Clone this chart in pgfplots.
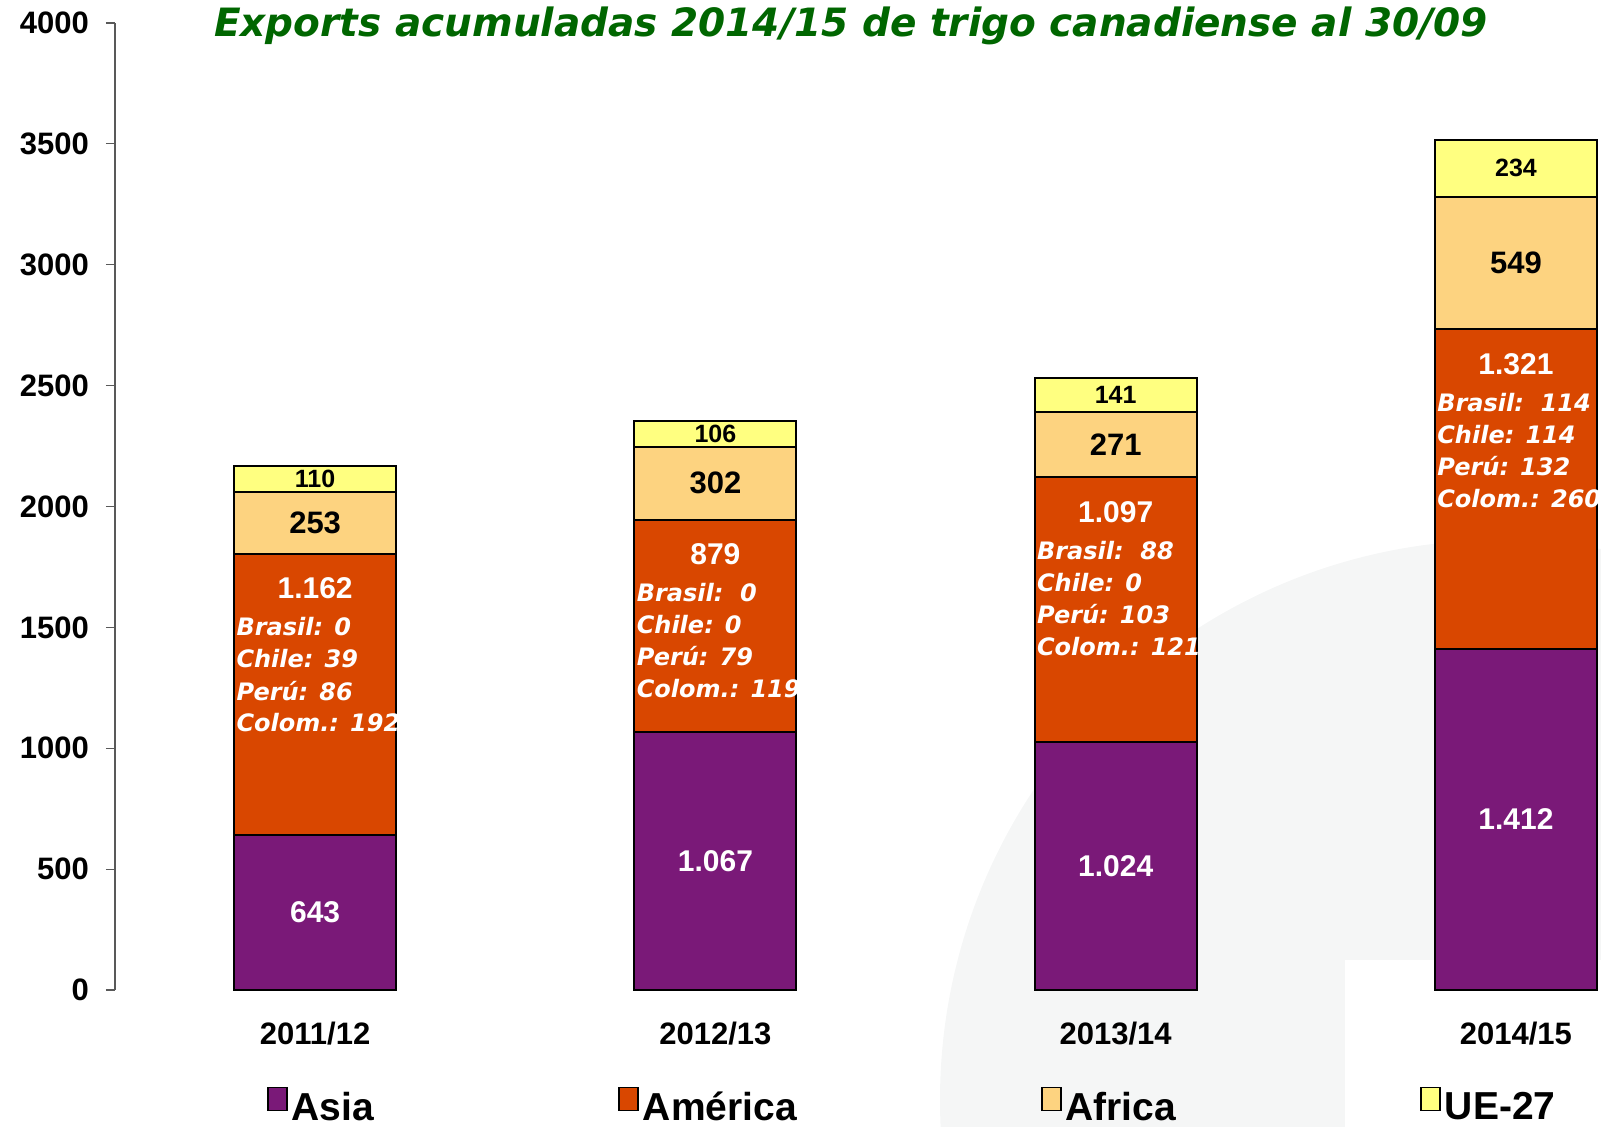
\documentclass[border=0pt]{standalone}
\usepackage{pgfplots}
\pgfplotsset{compat=1.18}
\usepackage{fontspec}
\setmainfont{Liberation Sans}
\newfontfamily\dv{DejaVu Sans}
\definecolor{asia}{RGB}{122,25,120}
\definecolor{amer}{RGB}{217,71,0}
\definecolor{afr}{RGB}{253,211,128}
\definecolor{ue}{RGB}{255,255,128}
\definecolor{ttl}{RGB}{0,102,0}
\definecolor{wm}{RGB}{245,246,246}
\newcommand{\amerlab}[6]{%
  \node[text=white, font=\bfseries\fontsize{15}{15}\selectfont, yshift=-17.5pt] at (#1) {#2};
  \node[anchor=west, inner sep=1pt, text=white, font=\dv\bfseries\itshape\fontsize{12}{12}\selectfont, yshift=-36.5pt, xshift=-40.5pt] at (#1) {#3};
  \node[anchor=west, inner sep=1pt, text=white, font=\dv\bfseries\itshape\fontsize{12}{12}\selectfont, yshift=-52.5pt, xshift=-40.5pt] at (#1) {#4};
  \node[anchor=west, inner sep=1pt, text=white, font=\dv\bfseries\itshape\fontsize{12}{12}\selectfont, yshift=-68.5pt, xshift=-40.5pt] at (#1) {#5};
  \node[anchor=west, inner sep=1pt, text=white, font=\dv\bfseries\itshape\fontsize{12}{12}\selectfont, yshift=-84.5pt, xshift=-40.5pt] at (#1) {#6};
}
\begin{document}
\begin{tikzpicture}
% faint background watermark
\begin{scope}
\clip (-57.5pt,-68.5pt) rectangle (743pt,495pt);
\fill[wm] (692.5pt,-55pt) circle (280pt);
\fill[white] (615pt,-68.5pt) rectangle (743pt,15pt);
\end{scope}
\begin{axis}[
  at={(0,0)}, anchor=south west,
  width=742.5pt, height=483.5pt, scale only axis,
  xmin=-0.5, xmax=3.21, ymin=0, ymax=4000,
  enlargelimits=false,
  axis y line*=left, axis x line*=bottom,
  ybar stacked, bar width=81pt,
  xtick={0,1,2,3}, xticklabels={2011/12,2012/13,2013/14,2014/15},
  ytick={0,500,...,4000},
  tick align=outside, major tick length=4.5pt,
  y axis line style={draw=gray!70!black, line width=0.6pt},
  ytick style={draw=gray!70!black, line width=0.6pt},
  xtick style={draw=none},
  x axis line style={draw=none},
  /pgf/number format/assume math mode=true,
  scaled y ticks=false,
  yticklabel style={font=\bfseries\fontsize{15.5}{15.5}\selectfont, xshift=-5pt, /pgf/number format/.cd, fixed, 1000 sep={}},
  xticklabel style={font=\bfseries\fontsize{15.5}{15.5}\selectfont, yshift=-8pt},
  clip=false,
  legend columns=4,
  legend cell align=left,
  legend style={draw=none, fill=none, inner sep=0pt, at={(0.102,-0.121)}, anchor=west,
    font=\bfseries\fontsize{19.5}{19.5}\selectfont,
    /tikz/every even column/.append style={column sep=120pt}},
]
\addplot[fill=asia, draw=black, line width=1pt, legend image code/.code={\draw[fill=asia,draw=black,line width=0.9pt] (0pt,-1.5pt) rectangle (9.5pt,10pt);}] coordinates {(0,643) (1,1067) (2,1024) (3,1412)};
\addlegendentry{Asia}
\addplot[fill=amer, draw=black, line width=1pt, legend image code/.code={\draw[fill=amer,draw=black,line width=0.9pt] (0pt,-1.5pt) rectangle (9.5pt,10pt);}] coordinates {(0,1162) (1,879) (2,1097) (3,1321)};
\addlegendentry{América}
\addplot[fill=afr, draw=black, line width=1pt, legend image code/.code={\draw[fill=afr,draw=black,line width=0.9pt] (0pt,-1.5pt) rectangle (9.5pt,10pt);}] coordinates {(0,253) (1,302) (2,271) (3,549)};
\addlegendentry{Africa}
\addplot[fill=ue, draw=black, line width=1pt, legend image code/.code={\draw[fill=ue,draw=black,line width=0.9pt] (0pt,-1.5pt) rectangle (9.5pt,10pt);}] coordinates {(0,110) (1,106) (2,141) (3,234)};
\addlegendentry{UE-27}
% anchor points for labels
\coordinate (as0) at (axis cs:0,321.5);
\coordinate (as1) at (axis cs:1,533.5);
\coordinate (as2) at (axis cs:2,512);
\coordinate (as3) at (axis cs:3,706);
\coordinate (am0) at (axis cs:0,1805);
\coordinate (am1) at (axis cs:1,1946);
\coordinate (am2) at (axis cs:2,2121);
\coordinate (am3) at (axis cs:3,2733);
\coordinate (af0) at (axis cs:0,1931.5);
\coordinate (af1) at (axis cs:1,2097);
\coordinate (af2) at (axis cs:2,2256.5);
\coordinate (af3) at (axis cs:3,3007.5);
\coordinate (ue0) at (axis cs:0,2113);
\coordinate (ue1) at (axis cs:1,2301);
\coordinate (ue2) at (axis cs:2,2462.5);
\coordinate (ue3) at (axis cs:3,3399);
\end{axis}
% Asia labels
\foreach \c/\t in {as0/643, as1/1.067, as2/1.024, as3/1.412}
  \node[text=white, font=\bfseries\fontsize{15}{15}\selectfont] at (\c) {\t};
% America labels
\amerlab{am0}{1.162}{Brasil: 0}{Chile: 39}{Perú: 86}{Colom.: 192}
\amerlab{am1}{879}{Brasil:\ \ 0}{Chile: 0}{Perú: 79}{Colom.: 119}
\amerlab{am2}{1.097}{Brasil:\ \ 88}{Chile: 0}{Perú: 103}{Colom.: 121}
\amerlab{am3}{1.321}{Brasil:\ \ 114}{Chile: 114}{Perú: 132}{Colom.: 260}
% Africa labels
\foreach \c/\t in {af0/253, af1/302, af2/271, af3/549}
  \node[font=\bfseries\fontsize{15.5}{15.5}\selectfont] at (\c) {\t};
% UE labels
\foreach \c/\t in {ue0/110, ue1/106, ue2/141, ue3/234}
  \node[font=\bfseries\fontsize{12.5}{12.5}\selectfont] at (\c) {\t};
\node[anchor=base, font=\dv\bfseries\itshape\fontsize{19.5}{19.5}\selectfont, text=ttl] at (368pt,476.5pt) {Exports acumuladas 2014/15 de trigo canadiense al 30/09};
\pgfresetboundingbox
\path (-57.5pt,-68.5pt) rectangle (743pt,495pt);
\end{tikzpicture}
\end{document}
